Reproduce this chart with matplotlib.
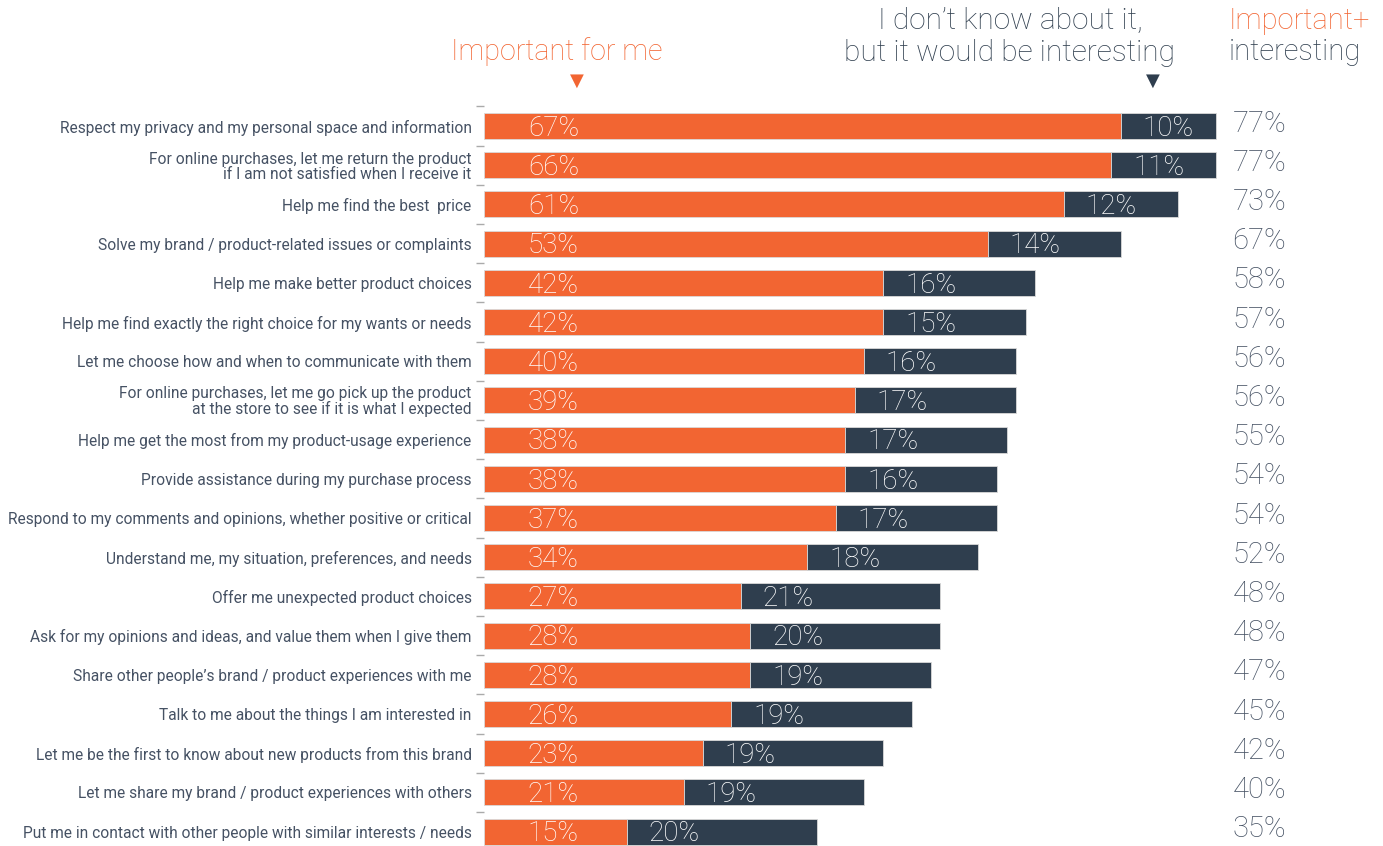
import matplotlib
matplotlib.use("Agg")
import matplotlib.pyplot as plt
from matplotlib import font_manager
from matplotlib.transforms import ScaledTranslation

categories = [
    "Respect my privacy and my personal space and information",
    "For online purchases, let me return the product\nif I am not satisfied when I receive it",
    "Help me find the best  price",
    "Solve my brand / product-related issues or complaints",
    "Help me make better product choices",
    "Help me find exactly the right choice for my wants or needs",
    "Let me choose how and when to communicate with them",
    "For online purchases, let me go pick up the product\nat the store to see if it is what I expected",
    "Help me get the most from my product-usage experience",
    "Provide assistance during my purchase process",
    "Respond to my comments and opinions, whether positive or critical",
    "Understand me, my situation, preferences, and needs",
    "Offer me unexpected product choices",
    "Ask for my opinions and ideas, and value them when I give them",
    "Share other people\u2019s brand / product experiences with me",
    "Talk to me about the things I am interested in",
    "Let me be the first to know about new products from this brand",
    "Let me share my brand / product experiences with others",
    "Put me in contact with other people with similar interests / needs",
]
important = [67, 66, 61, 53, 42, 42, 40, 39, 38, 38, 37, 34, 27, 28, 28, 26, 23, 21, 15]
interesting = [10, 11, 12, 14, 16, 15, 16, 17, 17, 16, 17, 18, 21, 20, 19, 19, 19, 19, 20]
totals = [77, 77, 73, 67, 58, 57, 56, 56, 55, 54, 54, 52, 48, 48, 47, 45, 42, 40, 35]

ORANGE = "#F26532"
DARK = "#2F3E4E"
GREY = "#465264"

fams = {f.name for f in font_manager.fontManager.ttflist}
FAM = ["Roboto", "DejaVu Sans"] if "Roboto" in fams else ["DejaVu Sans"]
plt.rcParams["font.family"] = FAM
WT = "light"

W, H = 1383, 846
fig = plt.figure(figsize=(W / 100, H / 100), dpi=100)
left_px, px_per_unit = 484, 9.5
xmax = 90
top_px, row_px = 126, 39.2
ybot = (H - top_px) / row_px
ax_top_px = top_px - 0.5 * row_px
ax = fig.add_axes([left_px / W, 0, xmax * px_per_unit / W, (H - ax_top_px) / H])
ax.set_xlim(0, xmax)
ax.set_ylim(ybot, -0.5)

y = list(range(len(categories)))
ax.barh(y, important, height=0.66, color=ORANGE, edgecolor="#d9d9d9", linewidth=0.6)
ax.barh(y, interesting, left=important, height=0.66, color=DARK, edgecolor="#d9d9d9", linewidth=0.6)

for i in y:
    ax.text(7.3, i + 0.06, f"{important[i]}%", ha="center", va="center",
            color="white", fontsize=20, fontweight=WT)
    ax.text(important[i] + 5.0, i + 0.06, f"{interesting[i]}%", ha="center", va="center",
            color="white", fontsize=20, fontweight=WT)
    ax.text(78.8, i - 0.06, f"{totals[i]}%", ha="left", va="center",
            color=GREY, fontsize=21, fontweight=WT, clip_on=False)

ax.set_yticks(y)
ax.set_yticklabels(categories, fontsize=11.2, color=GREY, ha="right",
                   multialignment="right", fontweight="normal", linespacing=1.0)
off = ScaledTranslation(0, -3 / 100, fig.dpi_scale_trans)
for t in ax.get_yticklabels():
    t.set_transform(t.get_transform() + off)
ax.tick_params(axis="y", which="major", length=0, pad=9)
ax.set_yticks([i - 0.5 for i in y], minor=True)
ax.tick_params(axis="y", which="minor", length=6, color="#aaaaaa", width=1)
ax.set_xticks([])
for s in ax.spines.values():
    s.set_visible(False)

def fx(px):
    return px / W
def fy(py):
    return 1 - py / H

fig.text(fx(557), fy(52), "Important for me", ha="center", va="center",
         color=ORANGE, fontsize=20.6, fontweight=WT)
fig.text(fx(1010), fy(37), "I don\u2019t know about it,\nbut it would be interesting",
         ha="center", va="center", color=DARK, fontsize=21.5, fontweight=WT,
         linespacing=1.15)
fig.text(fx(1229), fy(21), "Important+", ha="left", va="center",
         color=ORANGE, fontsize=21, fontweight=WT)
fig.text(fx(1229), fy(52), "interesting", ha="left", va="center",
         color=DARK, fontsize=21, fontweight=WT)
fig.text(fx(577), fy(81), "\u25BC", ha="center", va="center", color=ORANGE, fontsize=13,
         family="DejaVu Sans")
fig.text(fx(1153), fy(81), "\u25BC", ha="center", va="center", color=DARK, fontsize=13,
         family="DejaVu Sans")

fig.savefig("out.png", dpi=100)
